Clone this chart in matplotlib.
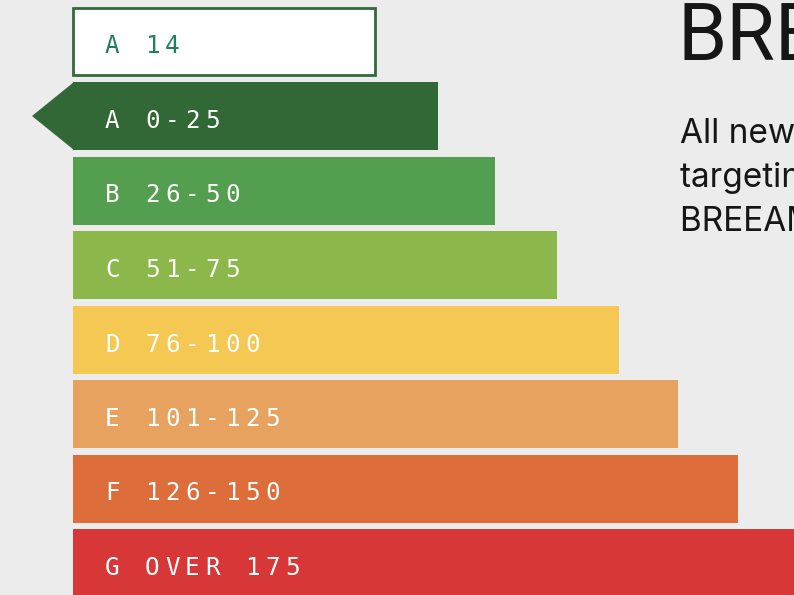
import matplotlib
matplotlib.use("Agg")
import matplotlib.pyplot as plt
from matplotlib.patches import Polygon, Rectangle

# rating bands (label, right edge of the bar in page pixels)
labels = ["A 0-25", "B 26-50", "C 51-75", "D 76-100", "E 101-125", "F 126-150", "G OVER 175"]
bar_ends = [438, 495, 557, 619, 678, 738, 830]
colors = ["#316835", "#549f4f", "#8cb84b", "#f4c853", "#e8a25f", "#dd6e3b", "#d83737"]

current_label = "A 14"
current_end = 375

title = "BREEAM"
body = ["All new homes are", "targeting an EPC rating", "BREEAM Excellent"]

bg = "#ececec"
fig = plt.figure(figsize=(7.94, 5.95), dpi=100, facecolor=bg)
ax = fig.add_axes([0, 0, 1, 1])
ax.set_facecolor(bg)
ax.set_xlim(0, 794)
ax.set_ylim(595, 0)
ax.axis("off")

left = 73
row_h = 74.5
bar_h = 68
top0 = 82

mono = "DejaVu Sans Mono"


def spaced(x, y, s, color):
    # draw text with wide letter spacing, one char per 20px
    for i, ch in enumerate(s):
        ax.text(x + i * 20, y, ch, color=color, fontsize=17.5, family=mono,
                ha="left", va="baseline")


# current rating box
ax.add_patch(Rectangle((left, 8), current_end - left, 67, facecolor="white",
                       edgecolor="#336a3a", linewidth=2))
spaced(105, 53, current_label, "#1f7f5f")

for i, (lab, end, c) in enumerate(zip(labels, bar_ends, colors)):
    y = top0 + i * row_h
    ax.barh(y + bar_h / 2, end - left, left=left, height=bar_h, color=c)
    if i == 0:
        ax.add_patch(Polygon([(left + 1, y), (32, y + bar_h / 2), (left + 1, y + bar_h)],
                             closed=True, facecolor=c, edgecolor="none"))
    spaced(105, y + 46, lab, "white")

ax.text(677, 60, title, fontsize=57, family="Roboto",
        color="#161616", ha="left", va="baseline")
for j, line in enumerate(body):
    ax.text(680, 143 + j * 44, line, fontsize=24, family="Inter", color="#161616",
            ha="left", va="baseline")

fig.savefig("out.png", dpi=100, facecolor=bg)
